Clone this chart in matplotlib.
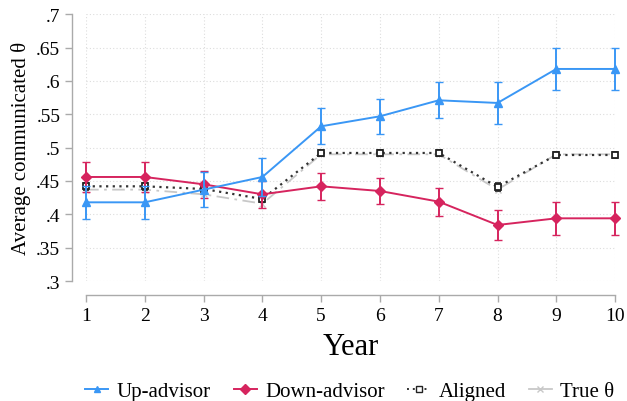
import matplotlib
matplotlib.use("Agg")
import matplotlib.pyplot as plt
from matplotlib.lines import Line2D
import numpy as np

plt.rcParams['font.family'] = ['Liberation Serif', 'DejaVu Serif']
plt.rcParams['mathtext.fontset'] = 'stix'

years = [1, 2, 3, 4, 5, 6, 7, 8, 9, 10]
up = [.418, .418, .437, .456, .532, .547, .571, .567, .618, .618]
up_err = [.025, .025, .026, .029, .027, .026, .027, .032, .031, .031]
down = [.456, .456, .445, .430, .442, .435, .419, .384, .394, .394]
down_err = [.023, .023, .020, .020, .020, .020, .021, .022, .025, .025]
aligned = [.442, .442, .438, .423, .492, .492, .492, .441, .489, .489]
aligned_err = [.005, .005, .005, .005, .005, .005, .005, .006, .004, .004]
true_theta = [.437, .437, .430, .416, .490, .490, .490, .437, .490, .490]

yticks = [.3, .35, .4, .45, .5, .55, .6, .65, .7]
ytick_labels = ['.3', '.35', '.4', '.45', '.5', '.55', '.6', '.65', '.7']

blue = '#3A97F5'
red = '#D6245E'
gray = '#C8C8C8'

fig = plt.figure(figsize=(6.27, 4.02), dpi=100)
ax = fig.add_axes([0.1372, 0.2985, 0.8438, 0.6635])

ax.plot(years, true_theta, color=gray, lw=1.3, dashes=(7, 3, 1.5, 3),
        marker='x', ms=4, mew=1, clip_on=False, zorder=2)
ax.errorbar(years, aligned, yerr=aligned_err, color='#333333', lw=1.6, ls=(0, (1, 2)),
            marker='s', ms=5, mfc='white', mec='#222222', mew=1.3, capsize=2, elinewidth=1,
            clip_on=False, zorder=3)
ax.errorbar(years, down, yerr=down_err, color=red, lw=1.4, marker='D', ms=5.5,
            capsize=3, elinewidth=1.4, clip_on=False, zorder=4)
ax.errorbar(years, up, yerr=up_err, color=blue, lw=1.4, marker='^', ms=6,
            capsize=3, elinewidth=1.4, clip_on=False, zorder=5)

ax.set_xlim(1, 10)
ax.set_ylim(.3, .7)
ax.set_xticks(years)
ax.set_yticks(yticks)
ax.set_yticklabels(ytick_labels)
ax.grid(True, color='#DDDDDD', ls=(0, (1, 2)), lw=0.8)
ax.set_axisbelow(True)

for s in ['top', 'right']:
    ax.spines[s].set_visible(False)
ax.spines['left'].set_position(('outward', 10))
ax.spines['bottom'].set_position(('outward', 10))
ax.spines['left'].set_bounds(.3, .7)
ax.spines['bottom'].set_bounds(1, 10)
for s in ['left', 'bottom']:
    ax.spines[s].set_color('#AAAAAA')
    ax.spines[s].set_linewidth(1)
ax.tick_params(axis='both', colors='#AAAAAA', labelcolor='black', labelsize=14,
               length=5, width=1)

ax.set_ylabel('Average communicated θ', fontsize=15)
ax.set_xlabel('Year', fontsize=22, labelpad=6)

handles = [
    Line2D([], [], color=blue, lw=1.4, marker='^', ms=5),
    Line2D([], [], color=red, lw=1.4, marker='D', ms=5),
    Line2D([], [], color='#333333', lw=1.4, ls=(0, (1, 2)), marker='s', ms=4,
           mfc='white', mec='#222222', mew=1),
    Line2D([], [], color=gray, lw=1.3, marker='x', ms=4, mew=1),
]
labels = ['Up-advisor', 'Down-advisor', 'Aligned', 'True θ']
fig.legend(handles, labels,
           loc='lower center', bbox_to_anchor=(0.558, -0.047), ncol=4, frameon=False,
           fontsize=15, handlelength=1.1, handletextpad=0.4, columnspacing=1.1)

fig.savefig('out.png', dpi=100)
